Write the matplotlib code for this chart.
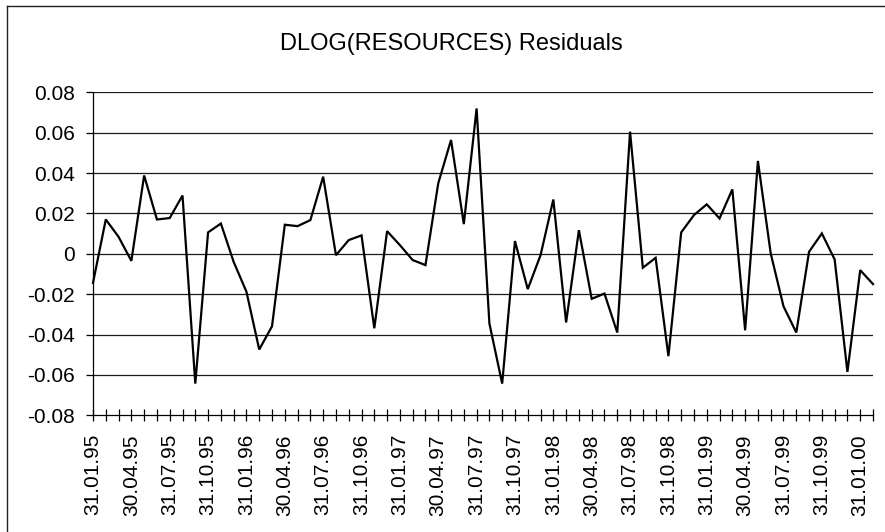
import matplotlib
matplotlib.use("Agg")
import matplotlib.pyplot as plt
from matplotlib.lines import Line2D

plt.rcParams['font.family'] = ['Liberation Sans', 'DejaVu Sans']

title = "DLOG(RESOURCES) Residuals"

# monthly residuals, 31.01.95 .. 28.02.00
residuals = [
    -0.0144, 0.0170, 0.0084, -0.0035, 0.0388, 0.0170, 0.0177, 0.0289, -0.0643, 0.0106,
    0.0150, -0.0040, -0.0188, -0.0474, -0.0359, 0.0144, 0.0137, 0.0167, 0.0382, -0.0007,
    0.0068, 0.0091, -0.0369, 0.0112, 0.0043, -0.0031, -0.0056, 0.0349, 0.0564, 0.0147,
    0.0720, -0.0345, -0.0643, 0.0063, -0.0175, -0.0007, 0.0269, -0.0340, 0.0117, -0.0223,
    -0.0197, -0.0390, 0.0605, -0.0069, -0.0020, -0.0507, 0.0106, 0.0192, 0.0245, 0.0175,
    0.0319, -0.0379, 0.0460, 0.0002, -0.0260, -0.0390, 0.0010, 0.0101, -0.0028, -0.0585,
    -0.0081, -0.0150,
]

x_labels = [
    "31.01.95", "30.04.95", "31.07.95", "31.10.95",
    "31.01.96", "30.04.96", "31.07.96", "31.10.96",
    "31.01.97", "30.04.97", "31.07.97", "31.10.97",
    "31.01.98", "30.04.98", "31.07.98", "31.10.98",
    "31.01.99", "30.04.99", "31.07.99", "31.10.99",
    "31.01.00",
]
label_step = 3  # one label every quarter

y_ticks = [-0.08, -0.06, -0.04, -0.02, 0, 0.02, 0.04, 0.06, 0.08]
y_ticklabels = ["-0.08", "-0.06", "-0.04", "-0.02", "0", "0.02", "0.04", "0.06", "0.08"]

W, H = 885, 532
fig = plt.figure(figsize=(W / 100, H / 100), dpi=100)

left, right, top, bottom = 93, 873, 92.3, 415.3
ax = fig.add_axes([left / W, 1 - bottom / H, (right - left) / W, (bottom - top) / H])

n = len(residuals)
xs = list(range(n))
ax.plot(xs, residuals, color="black", lw=1.6, solid_joinstyle="miter", zorder=3, clip_on=False)

ax.set_xlim(0, n - 1)
ax.set_ylim(-0.08, 0.08)

ax.set_yticks(y_ticks)
ax.set_yticklabels(y_ticklabels, fontsize=15)
for yv in y_ticks[1:]:
    ax.axhline(yv, color="#1a1a1a", lw=0.9, zorder=1)

ax.set_xticks(xs)
lbls = []
for i in xs:
    if i % label_step == 0 and i // label_step < len(x_labels):
        lbls.append(x_labels[i // label_step])
    else:
        lbls.append("")
ax.set_xticklabels(lbls, rotation=90, fontsize=15, va="top", ha="center")

ax.tick_params(axis="x", direction="inout", length=9, width=0.9, color="black", pad=9)
ax.tick_params(axis="y", direction="out", length=5, width=0.9, color="black", pad=8)

for s in ["top", "right"]:
    ax.spines[s].set_visible(False)
for s in ["left", "bottom"]:
    ax.spines[s].set_color("black")
    ax.spines[s].set_linewidth(0.9)

fig.text(451 / W, 1 - 44 / H, title, ha="center", va="center", fontsize=17)

# outer chart border (left and top edges visible)
fig.add_artist(Line2D([7.3 / W, 7.3 / W], [0, 1 - 6.3 / H], transform=fig.transFigure, color="#222", lw=1.0))
fig.add_artist(Line2D([7.3 / W, 1], [1 - 6.3 / H, 1 - 6.3 / H], transform=fig.transFigure, color="#222", lw=1.0))

fig.savefig("out.png", dpi=100)
